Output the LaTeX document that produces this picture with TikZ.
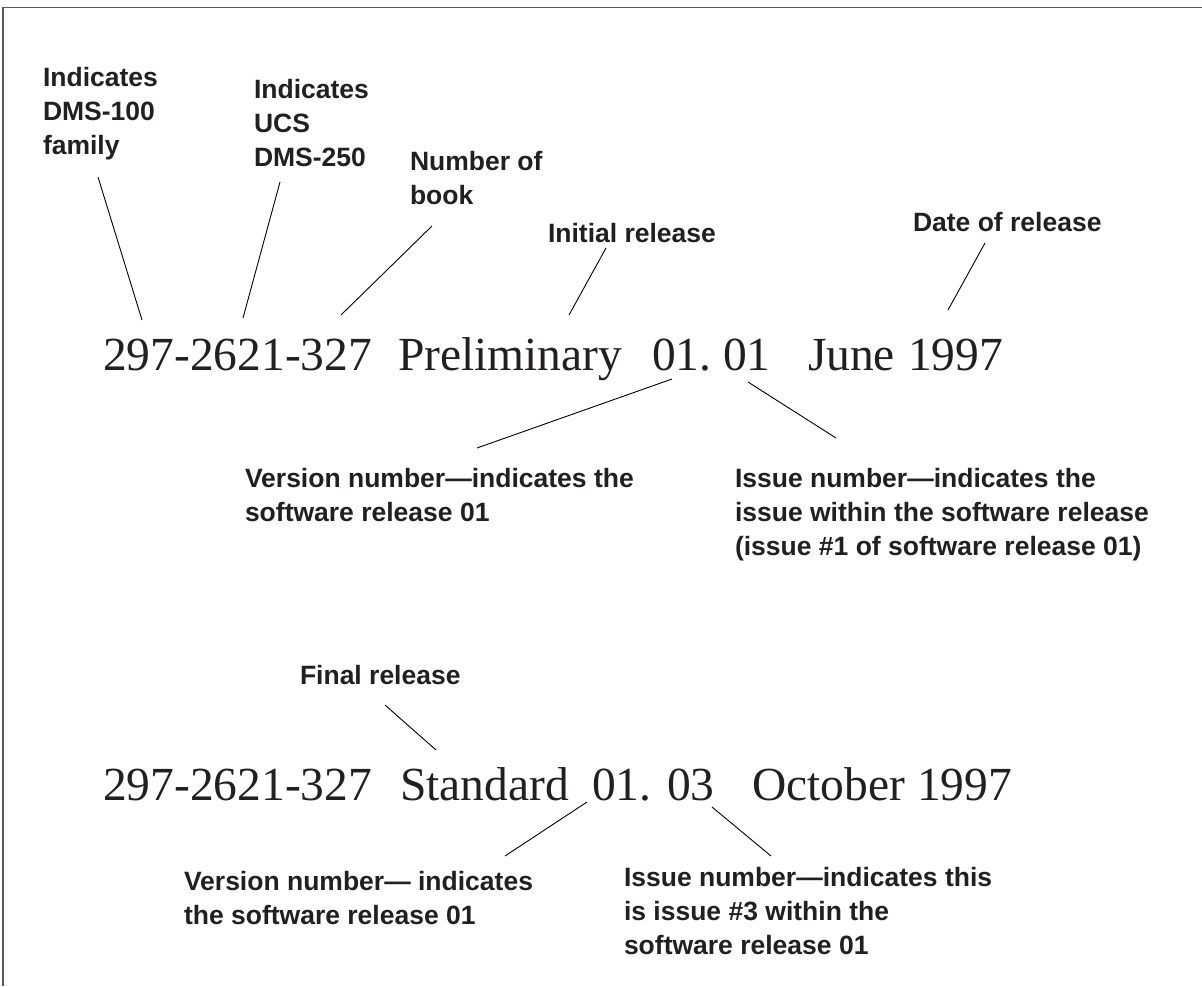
\documentclass[tikz,border=0pt]{standalone}
\usepackage{fontspec}
\setmainfont{Liberation Serif}
\newfontfamily\lblsans{Liberation Sans}
\definecolor{ink}{HTML}{231F20}
\newcommand\stk[1]{\vtop{\halign{##\hfil\cr#1\crcr}}}
\tikzset{
  lbl/.style={anchor=base west, inner sep=0pt, outer sep=0pt, text=ink,
    font=\lblsans\bfseries\fontsize{26.5}{34}\selectfont},
  big/.style={anchor=base west, inner sep=0pt, outer sep=0pt, text=ink,
    font=\fontsize{47.5}{50}\selectfont},
  lead/.style={draw=black, line width=0.9pt},
  frameline/.style={draw=black!65, line width=1.6pt}
}
\begin{document}
\begin{tikzpicture}[x=1pt, y=-1pt]
\useasboundingbox (0,0) rectangle (1202,986);
% frame
\coordinate (fbl) at (2.7,986);
\coordinate (ftl) at (2.7,7.5);
\coordinate (ftr) at (1202,7.5);
\draw[frameline] (fbl) -- (ftl) -- (ftr);

% ---------- first line ----------
\node[lbl] (dms100) at (43,86) {\stk{Indicates\cr DMS-100\cr family}};
\node[lbl] (dms250) at (254,98) {\stk{Indicates\cr UCS\cr DMS-250}};
\node[lbl] (book) at (410,170) {\stk{Number of\cr book}};
\node[lbl] (initial) at (548,242) {Initial release};
\node[lbl] (date) at (913,231) {Date of release};

\node[big] (num1) at (103,370) {297-2621-327};
\node[big] (prelim) at (398,370) {Preliminary};
\node[big] (ver1) at (652,370) {01.};
\node[big] (iss1) at (723,370) {01};
\node[big] (june) at (808,370) {June};
\node[big] (year1) at (908,370) {1997};

\node[lbl] (ver1txt) at (245,487) {\stk{Version number—indicates the\cr software release 01}};
\node[lbl] (iss1txt) at (735,487) {\stk{Issue number—indicates the\cr issue within the software release\cr (issue \#1 of software release 01)}};

\coordinate (a1) at (98,177);   \coordinate (a2) at (142,320);
\coordinate (b1) at (280,182);  \coordinate (b2) at (243,318);
\coordinate (c1) at (432,226);  \coordinate (c2) at (341,315);
\coordinate (d1) at (606,248);  \coordinate (d2) at (569,315);
\coordinate (e1) at (985,243);  \coordinate (e2) at (948,310);
\coordinate (f1) at (672,379);  \coordinate (f2) at (477,448);
\coordinate (g1) at (748,382);  \coordinate (g2) at (836,438);
\draw[lead] (a1) -- (a2);
\draw[lead] (b1) -- (b2);
\draw[lead] (c1) -- (c2);
\draw[lead] (d1) -- (d2);
\draw[lead] (e1) -- (e2);
\draw[lead] (f1) -- (f2);
\draw[lead] (g1) -- (g2);

% ---------- second line ----------
\node[lbl] (final) at (300,684) {Final release};
\node[big] (num2) at (103,800) {297-2621-327};
\node[big] (std) at (400,800) {Standard};
\node[big] (ver2) at (592,800) {01.};
\node[big] (iss2) at (667,800) {03};
\node[big] (oct) at (752,800) {October};
\node[big] (year2) at (917,800) {1997};

\node[lbl] (ver2txt) at (184,890) {\stk{Version number— indicates\cr the software release 01}};
\node[lbl] (iss2txt) at (624,886) {\stk{Issue number—indicates this\cr is issue \#3 within the\cr software release 01}};

\coordinate (h1) at (385,705);  \coordinate (h2) at (436,750);
\coordinate (i1) at (587,802);  \coordinate (i2) at (505,856);
\coordinate (j1) at (712,807);  \coordinate (j2) at (771,856);
\draw[lead] (h1) -- (h2);
\draw[lead] (i1) -- (i2);
\draw[lead] (j1) -- (j2);
\end{tikzpicture}
\end{document}
